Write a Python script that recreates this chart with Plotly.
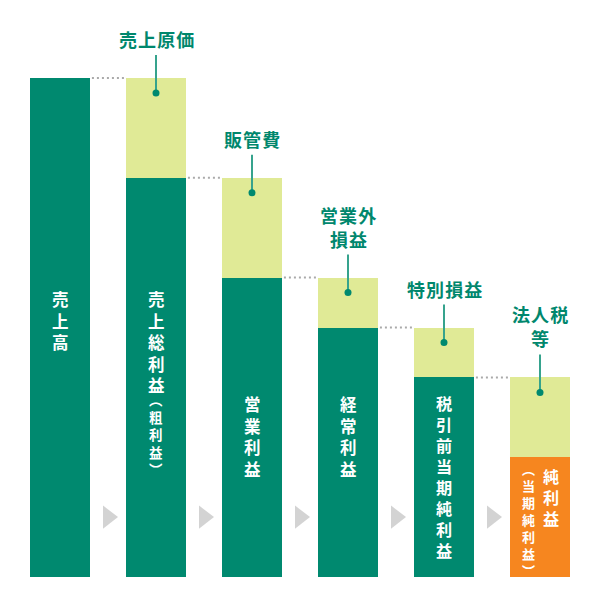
import plotly.graph_objects as go

# values in % of sales (売上高 = 100)
categories = ["売上高", "売上総利益（粗利益）", "営業利益", "経常利益",
              "税引前当期純利益", "純利益（当期純利益）"]
profit = [100, 80, 60, 50, 40, 24]
deduction = [0, 20, 20, 10, 10, 16]
deduction_lines = [[], ["売上原価"], ["販管費"], ["営業外", "損益"],
                   ["特別損益"], ["法人税", "等"]]

TEAL = "#00896F"
LIGHT = "#E0EA96"
ORANGE = "#F6861F"
LABEL = "#00876D"
LEADER = "#36A38D"
FONT = "Noto Sans CJK JP"

# page body has an 8px margin, so the figure is a bit smaller than the window
PAGE_OFF = 8
FIG_W, FIG_H = 600 - PAGE_OFF, 604 - PAGE_OFF
PLOT_H = 577 - PAGE_OFF          # bar baseline
Y_MAX = 100 * PLOT_H / 499       # 100 % = 499 px
BAR_W = 0.625
PX_PER_X = 96
X0_PX = 60 - PAGE_OFF            # centre of first bar
LINE_SPACING = 1.3               # plotly's multi-line spacing

bar_colors = [TEAL] * (len(profit) - 1) + [ORANGE]

fig = go.Figure()
x = list(range(len(categories)))

fig.add_trace(go.Bar(
    x=x, y=profit, base=0, width=BAR_W,
    marker=dict(color=bar_colors, line_width=0),
    hovertext=categories, hoverinfo="text",
))
fig.add_trace(go.Bar(
    x=x, y=deduction, base=profit, width=BAR_W,
    marker=dict(color=LIGHT, line_width=0),
    hovertext=["".join(l) for l in deduction_lines], hoverinfo="text",
))

# grey arrows between bars
fig.add_trace(go.Scatter(
    x=[i + 0.5 for i in x[:-1]], y=[12] * (len(x) - 1),
    mode="markers", hoverinfo="skip",
    marker=dict(symbol="triangle-right", size=20, color="#D3D3D3"),
))

shapes = []
annotations = []

# dotted connectors
for i in x[:-1]:
    shapes.append(dict(
        type="line", xref="x", yref="y",
        x0=i + BAR_W / 2 + 0.02, x1=i + 1 - BAR_W / 2 - 0.01,
        y0=profit[i], y1=profit[i],
        line=dict(color="#AAAAAA", width=2, dash="2px,3px"),
    ))

# leader lines, dots and labels above deductions
for i in x:
    if not deduction[i]:
        continue
    top = profit[i] + deduction[i]
    shapes.append(dict(
        type="line", xref="x", yref="y", ysizemode="pixel", yanchor=top,
        x0=i, x1=i, y0=-15, y1=23,
        line=dict(color=LEADER, width=2),
    ))
    shapes.append(dict(
        type="circle", xref="x", yref="y",
        xsizemode="pixel", xanchor=i, x0=-3.5, x1=3.5,
        ysizemode="pixel", yanchor=top, y0=-18.5, y1=-11.5,
        fillcolor=TEAL, line_width=0,
    ))
    lines = deduction_lines[i]
    for k, txt in enumerate(reversed(lines)):
        annotations.append(dict(
            x=i, y=top, xref="x", yref="y", yshift=39 + 24 * k,
            text="\u200a".join(txt), showarrow=False, yanchor="middle",
            font=dict(family=FONT, size=18, color=LABEL, weight="bold"),
        ))


def vertical_text(i, xshift, first_y, pitch, chars):
    # one character per line; first_y = centre of first glyph (window px)
    mid = first_y + pitch * (len(chars) - 1) / 2 - PAGE_OFF
    annotations.append(dict(
        x=i, xref="x", xshift=xshift,
        y=1 - mid / PLOT_H, yref="paper",
        text="<br>".join(chars), showarrow=False, yanchor="middle",
        font=dict(family=FONT, size=pitch / LINE_SPACING, color="white",
                  weight="bold"),
    ))


vertical_text(0, 0, 299, 21.5, "売上高")
vertical_text(1, 0, 299, 21.5, "売上総利益")
vertical_text(1, 0, 399, 17.5, "︵粗利益︶")
vertical_text(2, 0, 404, 21.5, "営業利益")
vertical_text(3, 0, 404, 21.5, "経常利益")
vertical_text(4, 0, 403, 21, "税引前当期純利益")
vertical_text(5, 11, 476, 21, "純利益")
vertical_text(5, -12, 469, 17, "︵当期純利益︶")

fig.update_layout(
    width=FIG_W, height=FIG_H,
    margin=dict(l=0, r=0, t=0, b=FIG_H - PLOT_H),
    paper_bgcolor="white", plot_bgcolor="white",
    barmode="overlay", bargap=0, showlegend=False,
    xaxis=dict(range=[-X0_PX / PX_PER_X, (FIG_W - X0_PX) / PX_PER_X],
               visible=False, fixedrange=True),
    yaxis=dict(range=[0, Y_MAX], visible=False, fixedrange=True),
    shapes=shapes, annotations=annotations,
    font=dict(family=FONT),
)

fig.write_html("out.html")
